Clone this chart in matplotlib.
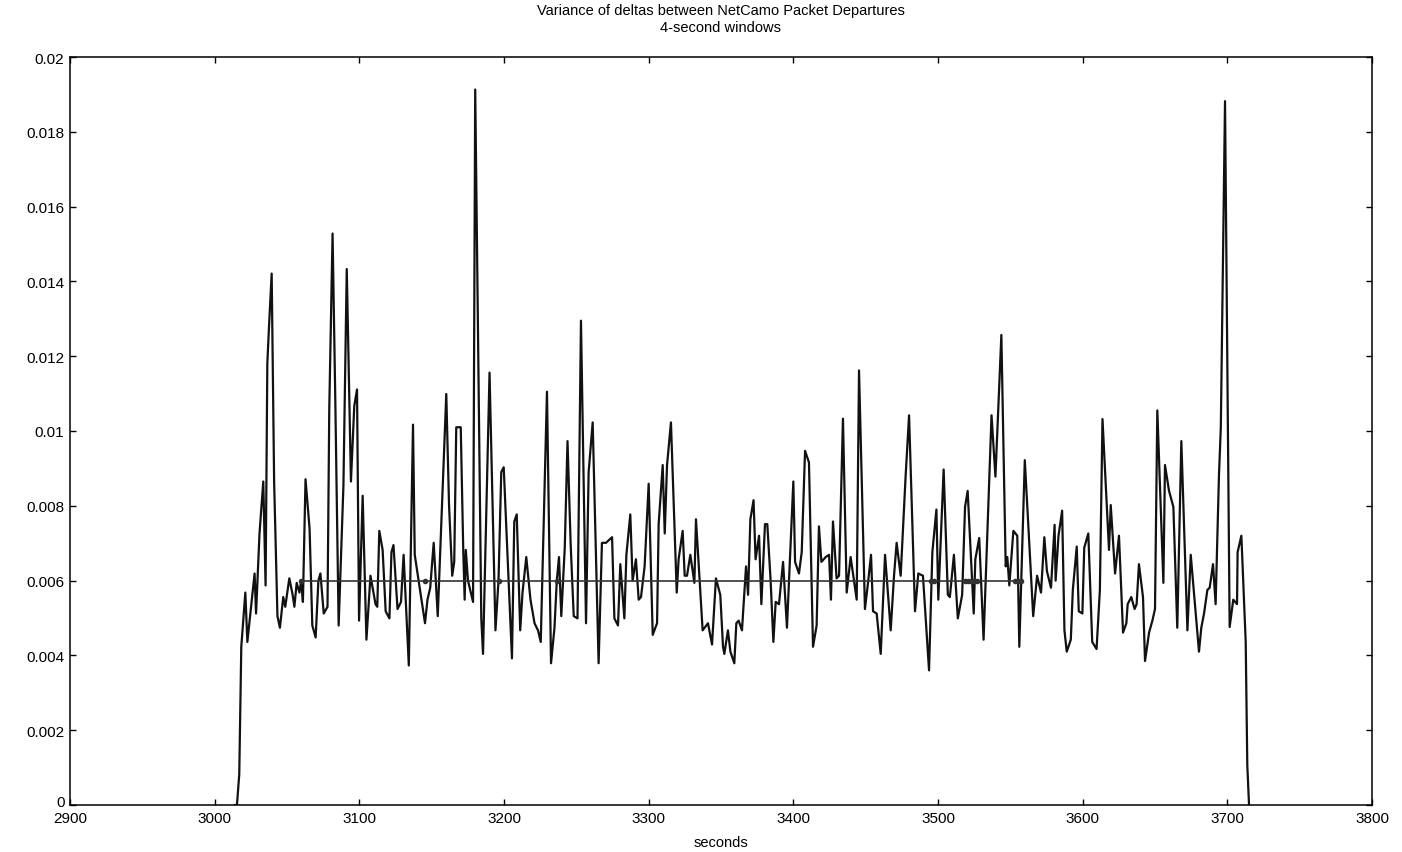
import matplotlib.pyplot as plt
import matplotlib.ticker as mticker
import matplotlib.transforms as mtransforms

plt.rcParams['font.family'] = ['Liberation Sans', 'DejaVu Sans']

# variance of deltas (time in seconds)
t_sec = [
    3014, 3015.4, 3017.0, 3018.4, 3021.2, 3022.6, 3025.4, 3027.6, 3028.6, 3029.8,
    3031.0, 3033.6, 3035.2, 3036.4, 3037.6, 3039.4, 3041.1, 3043.4, 3045.1, 3047.4,
    3048.8, 3051.6, 3053.9, 3055.1, 3056.7, 3058.6, 3059.8, 3061.0, 3062.8, 3065.6,
    3067.5, 3069.8, 3071.7, 3073.1, 3075.4, 3078.0, 3079.2, 3081.5, 3083.4, 3085.7,
    3089.0, 3091.3, 3094.2, 3096.5, 3098.4, 3099.8, 3102.3, 3104.9, 3107.7, 3111.2,
    3112.4, 3113.8, 3116.1, 3118.2, 3120.8, 3122.2, 3123.6, 3126.4, 3128.8, 3130.6,
    3134.2, 3137.1, 3138.3, 3145.4, 3147.1, 3149.0, 3151.4, 3154.2, 3160.1, 3162.0,
    3164.2, 3165.6, 3167.0, 3170.1, 3171.8, 3172.8, 3173.6, 3175.1, 3178.6, 3180.1,
    3184.3, 3185.5, 3190.0, 3194.1, 3196.2, 3198.1, 3199.8, 3205.5, 3207.1, 3208.8,
    3211.2, 3212.8, 3215.4, 3218.3, 3221.1, 3223.5, 3225.4, 3229.7, 3232.5, 3234.9,
    3236.5, 3238.0, 3239.6, 3242.0, 3243.9, 3246.1, 3248.2, 3250.8, 3253.2, 3256.7,
    3258.5, 3261.3, 3265.4, 3267.7, 3270.5, 3274.7, 3276.3, 3278.8, 3280.4, 3283.2,
    3284.6, 3287.3, 3288.9, 3291.2, 3293.1, 3294.7, 3297.2, 3300.0, 3302.8, 3305.8,
    3306.9, 3309.7, 3311.1, 3312.7, 3315.4, 3319.4, 3320.7, 3323.5, 3324.9, 3326.5,
    3328.8, 3331.6, 3332.7, 3337.3, 3341.0, 3343.8, 3346.5, 3349.5, 3351.4, 3352.3,
    3354.8, 3356.5, 3359.2, 3360.6, 3362.2, 3364.5, 3367.3, 3368.7, 3370.3, 3372.5,
    3373.9, 3376.3, 3377.9, 3380.4, 3382.0, 3384.3, 3386.2, 3387.8, 3390.1, 3392.9,
    3395.6, 3400.0, 3401.2, 3403.9, 3405.8, 3408.1, 3410.8, 3413.6, 3416.1, 3417.7,
    3419.4, 3422.4, 3424.7, 3426.0, 3427.4, 3429.9, 3431.6, 3434.3, 3436.9, 3439.6,
    3443.8, 3445.4, 3449.5, 3451.8, 3453.7, 3455.1, 3457.6, 3460.4, 3463.4, 3467.3,
    3469.6, 3471.4, 3474.2, 3477.6, 3480.0, 3484.1, 3486.4, 3489.6, 3493.8, 3496.1,
    3498.9, 3500.2, 3503.9, 3506.8, 3508.2, 3511.0, 3513.7, 3516.7, 3518.7, 3520.5,
    3524.7, 3525.8, 3528.5, 3531.5, 3537.0, 3539.7, 3543.8, 3546.8, 3547.9, 3549.3,
    3552.1, 3554.8, 3556.2, 3560.0, 3565.8, 3568.5, 3571.2, 3573.5, 3575.3, 3578.1,
    3580.6, 3581.3, 3583.3, 3585.8, 3587.4, 3589.0, 3591.8, 3593.2, 3595.9, 3597.3,
    3599.8, 3601.1, 3603.9, 3606.6, 3609.6, 3611.9, 3613.7, 3618.2, 3619.4, 3622.4,
    3625.1, 3627.9, 3630.2, 3631.1, 3633.6, 3635.9, 3637.3, 3638.9, 3641.7, 3643.1,
    3645.9, 3648.2, 3650.0, 3651.6, 3655.8, 3656.9, 3659.7, 3662.7, 3665.4, 3668.2,
    3672.4, 3674.7, 3680.4, 3682.0, 3683.9, 3686.2, 3687.8, 3690.1, 3691.9, 3694.2,
    3695.5, 3698.4, 3701.6, 3704.1, 3706.7, 3707.1, 3709.7, 3712.7, 3713.8, 3715.0,
]
var_delta = [
    0, 0, 0.00082, 0.00423, 0.00568, 0.00436, 0.00537, 0.00619, 0.00512, 0.00619,
    0.00726, 0.00865, 0.00587, 0.01181, 0.01282, 0.01421, 0.00865, 0.00505, 0.00474, 0.00556,
    0.00530, 0.00606, 0.00562, 0.00530, 0.00594, 0.00568, 0.00600, 0.00543, 0.00871, 0.00739,
    0.00480, 0.00448, 0.00600, 0.00619, 0.00512, 0.00530, 0.01055, 0.01528, 0.01080, 0.00480,
    0.00853, 0.01433, 0.00865, 0.01067, 0.01111, 0.00493, 0.00827, 0.00442, 0.00613, 0.00537,
    0.00530, 0.00733, 0.00682, 0.00518, 0.00499, 0.00676, 0.00695, 0.00524, 0.00543, 0.00669,
    0.00373, 0.01017, 0.00669, 0.00486, 0.00549, 0.00581, 0.00701, 0.00505, 0.01099, 0.00802,
    0.00613, 0.00650, 0.01010, 0.01010, 0.00688, 0.00549, 0.00682, 0.00600, 0.00543, 0.01913,
    0.00499, 0.00404, 0.01156, 0.00467, 0.00600, 0.00890, 0.00903, 0.00392, 0.00758, 0.00777,
    0.00467, 0.00568, 0.00663, 0.00549, 0.00486, 0.00467, 0.00436, 0.01105, 0.00379, 0.00474,
    0.00600, 0.00663, 0.00505, 0.00688, 0.00973, 0.00695, 0.00505, 0.00499, 0.01295, 0.00486,
    0.00890, 0.01023, 0.00379, 0.00701, 0.00701, 0.00716, 0.00499, 0.00480, 0.00644, 0.00499,
    0.00669, 0.00777, 0.00600, 0.00657, 0.00549, 0.00556, 0.00638, 0.00859, 0.00455, 0.00486,
    0.00751, 0.00909, 0.00726, 0.00909, 0.01023, 0.00568, 0.00657, 0.00733, 0.00613, 0.00613,
    0.00669, 0.00594, 0.00764, 0.00467, 0.00486, 0.00429, 0.00606, 0.00562, 0.00423, 0.00404,
    0.00467, 0.00410, 0.00379, 0.00486, 0.00493, 0.00467, 0.00638, 0.00562, 0.00764, 0.00815,
    0.00657, 0.00720, 0.00537, 0.00751, 0.00751, 0.00600, 0.00436, 0.00543, 0.00537, 0.00650,
    0.00474, 0.00865, 0.00650, 0.00619, 0.00676, 0.00947, 0.00916, 0.00423, 0.00480, 0.00745,
    0.00650, 0.00663, 0.00669, 0.00549, 0.00758, 0.00606, 0.00613, 0.01033, 0.00568, 0.00663,
    0.00549, 0.01162, 0.00524, 0.00600, 0.00669, 0.00518, 0.00512, 0.00404, 0.00669, 0.00467,
    0.00613, 0.00701, 0.00613, 0.00878, 0.01042, 0.00518, 0.00619, 0.00613, 0.00360, 0.00676,
    0.00790, 0.00549, 0.00897, 0.00562, 0.00556, 0.00669, 0.00499, 0.00562, 0.00797, 0.00840,
    0.00512, 0.00657, 0.00714, 0.00442, 0.01042, 0.00878, 0.01257, 0.00638, 0.00663, 0.00587,
    0.00733, 0.00720, 0.00423, 0.00922, 0.00505, 0.00613, 0.00568, 0.00716, 0.00625, 0.00581,
    0.00749, 0.00600, 0.00720, 0.00787, 0.00467, 0.00410, 0.00442, 0.00575, 0.00691, 0.00518,
    0.00512, 0.00688, 0.00726, 0.00436, 0.00417, 0.00575, 0.01032, 0.00682, 0.00802, 0.00619,
    0.00720, 0.00461, 0.00486, 0.00537, 0.00556, 0.00524, 0.00537, 0.00644, 0.00556, 0.00385,
    0.00461, 0.00493, 0.00524, 0.01055, 0.00594, 0.00909, 0.00840, 0.00797, 0.00474, 0.00973,
    0.00467, 0.00669, 0.00410, 0.00474, 0.00512, 0.00575, 0.00581, 0.00644, 0.00537, 0.00880,
    0.01010, 0.01882, 0.00476, 0.00549, 0.00537, 0.00676, 0.00720, 0.00436, 0.00107, 0,
]

# threshold line with its crossing markers
thr_level = 0.006
thr_t = [3059.8, 3145.4, 3196.2, 3236.5, 3495.5, 3497.5, 3519.0, 3521.0,
         3523.0, 3525.0, 3527.0, 3553.5, 3555.5, 3557.5]

x_ticks = [2900, 3000, 3100, 3200, 3300, 3400, 3500, 3600, 3700, 3800]
y_ticks = [0, 0.002, 0.004, 0.006, 0.008, 0.01, 0.012, 0.014, 0.016, 0.018, 0.02]

fig = plt.figure(figsize=(14.02, 8.53), dpi=100)
ax = fig.add_axes([70 / 1402, 47 / 853, 1302 / 1402, 748 / 853])

ax.plot(t_sec, var_delta, '-', color='#111111', lw=1.6)
ax.plot(thr_t, [thr_level] * len(thr_t), '.-', color='#333333', lw=1.2, ms=6)

ax.set_xlim(2900, 3800)
ax.set_ylim(0, 0.02)
ax.set_xticks(x_ticks)
ax.set_yticks(y_ticks)
ax.yaxis.set_major_formatter(mticker.FuncFormatter(lambda v, p: f'{v:g}'))
ax.tick_params(direction='in', top=True, right=True, length=4, width=1,
               labelsize=11, pad=4)
for s in ax.spines.values():
    s.set_linewidth(1.1)

# nudge the "0" label up a little so it clears "2900"
zero_lbl = ax.get_yticklabels()[0]
zero_lbl.set_transform(zero_lbl.get_transform()
                       + mtransforms.ScaledTranslation(0, 3 / 72, fig.dpi_scale_trans))

fig.text(721 / 1402, 1 - 11 / 853, 'Variance of deltas between NetCamo Packet Departures',
         ha='center', va='center', fontsize=10.5)
fig.text(721 / 1402, 1 - 28 / 853, '4-second windows',
         ha='center', va='center', fontsize=10.5)
fig.text(721 / 1402, 1 - 843 / 853, 'seconds', ha='center', va='center', fontsize=10.5)

fig.savefig('out.png', dpi=100)
